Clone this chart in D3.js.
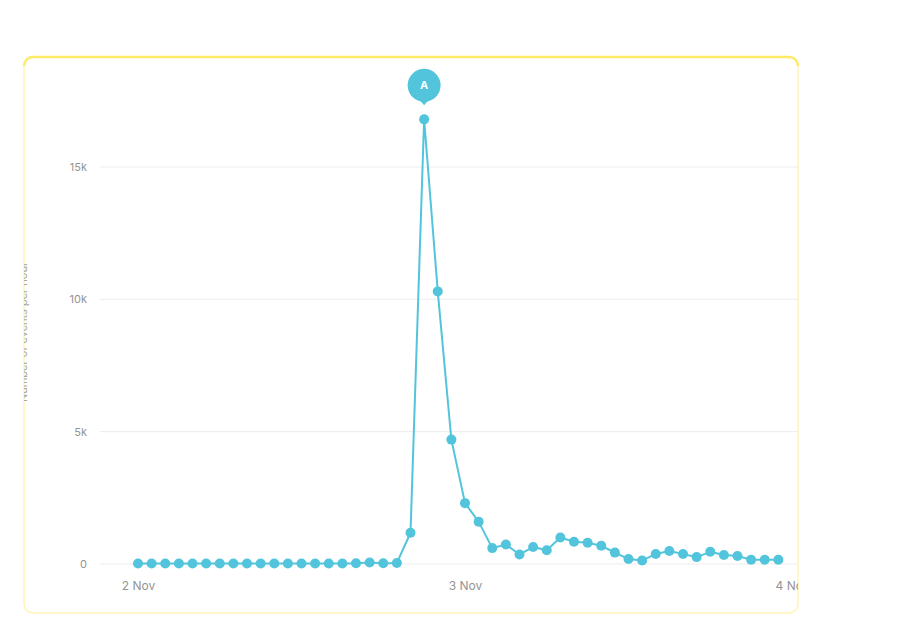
<!DOCTYPE html>
<html>
<head>
<meta charset="utf-8">
<script src="https://cdn.jsdelivr.net/npm/d3@7"></script>
<style>
html,body{margin:0;padding:0;background:#fff;}
svg{display:block;}
</style>
</head>
<body>
<svg id="chart" width="914" height="630"></svg>
<script>
// Hourly counts from 2 Nov 00:00 to 3 Nov 23:00
const startTime = "2023-11-02T00:00:00";
const values = [
  20, 20, 20, 20, 20, 20, 20, 20, 20, 20, 20, 20,
  20, 20, 20, 20, 30, 60, 30, 40, 1180, 16800, 10300, 4700,
  2300, 1600, 600, 740, 360, 640, 520, 1000, 840, 800, 690, 430,
  190, 130, 380, 490, 380, 260, 460, 340, 300, 160, 160, 160
];
const yTicks = [0, 5000, 10000, 15000];
const yTickLabels = ["0", "5k", "10k", "15k"];
const xTickDates = ["2023-11-02T00:00:00", "2023-11-03T00:00:00", "2023-11-04T00:00:00"];
const xTickLabels = ["2 Nov", "3 Nov", "4 Nov"];
const annotationLabel = "A";
const yTitle = "Number of events per hour";

const svg = d3.select("#chart");
const t0 = new Date(startTime);
const data = values.map((v, i) => ({ t: new Date(t0.getTime() + i * 3600000), v }));

const panel = { x: 24, y: 57, w: 774, h: 556 };
const color = "#52c5dc";

// Panel
const defs = svg.append("defs");
defs.append("clipPath").attr("id", "panelClip")
  .append("rect").attr("x", panel.x).attr("y", panel.y).attr("width", panel.w).attr("height", panel.h).attr("rx", 9);

svg.append("rect")
  .attr("x", panel.x).attr("y", panel.y).attr("width", panel.w).attr("height", panel.h).attr("rx", 9)
  .attr("fill", "#fff").attr("stroke", "#fff5b8").attr("stroke-width", 1.5);
// top yellow band
svg.append("path")
  .attr("d", `M${panel.x},${panel.y + 9} A9,9 0 0 1 ${panel.x + 9},${panel.y} L${panel.x + panel.w - 9},${panel.y} A9,9 0 0 1 ${panel.x + panel.w},${panel.y + 9}`)
  .attr("fill", "none").attr("stroke", "#fdea66").attr("stroke-width", 2.5);

const g = svg.append("g").attr("clip-path", "url(#panelClip)");

const x = d3.scaleTime().domain([new Date(xTickDates[0]), new Date(xTickDates[2])]).range([138, 792]);
const y = d3.scaleLinear().domain([0, 15000]).range([564, 167]);

// gridlines
g.append("g").selectAll("line").data(yTicks).join("line")
  .attr("x1", 100).attr("x2", panel.x + panel.w)
  .attr("y1", d => y(d)).attr("y2", d => y(d))
  .attr("stroke", "#ededed").attr("stroke-width", 1);

// y axis
const yAxis = d3.axisLeft(y).tickValues(yTicks).tickFormat((d, i) => yTickLabels[i]).tickSize(0).tickPadding(0);
const ya = g.append("g").attr("transform", "translate(87,0)").call(yAxis);
ya.select(".domain").remove();
ya.selectAll("text").attr("font-family", "Inter, 'Open Sans', sans-serif").attr("font-size", 11).attr("fill", "#949494");

// x axis
const xAxis = d3.axisBottom(x).tickValues(xTickDates.map(d => new Date(d))).tickFormat((d, i) => xTickLabels[i]).tickSize(0).tickPadding(0);
const xa = g.append("g").attr("transform", "translate(0,581)").call(xAxis);
xa.select(".domain").remove();
xa.selectAll("text").attr("font-family", "Inter, 'Open Sans', sans-serif").attr("font-size", 12).attr("fill", "#949494");

// y title (partially clipped)
g.append("text")
  .attr("transform", "translate(27,332) rotate(-90)")
  .attr("text-anchor", "middle")
  .attr("font-family", "Inter, 'Open Sans', sans-serif").attr("font-size", 11).attr("fill", "#a8a8a8")
  .text(yTitle);

// line
const line = d3.line().x(d => x(d.t)).y(d => y(d.v));
g.append("path").datum(data)
  .attr("d", line).attr("fill", "none").attr("stroke", color).attr("stroke-width", 2).attr("stroke-linejoin", "round");

g.append("g").selectAll("circle").data(data).join("circle")
  .attr("cx", d => x(d.t)).attr("cy", d => y(d.v)).attr("r", 5).attr("fill", color);

// annotation pin at max
const peak = data.reduce((a, b) => (b.v > a.v ? b : a));
const px = x(peak.t), py = y(peak.v) - 34;
const pin = g.append("g").attr("transform", `translate(${px},${py})`);
pin.append("path").attr("d", "M-6,13 L0,20 L6,13 Z").attr("fill", color);
pin.append("circle").attr("r", 16.5).attr("fill", color);
pin.append("text").attr("text-anchor", "middle").attr("dy", "0.36em")
  .attr("font-family", "Inter, 'Open Sans', sans-serif").attr("font-size", 11).attr("font-weight", 700).attr("fill", "#fff")
  .text(annotationLabel);
</script>
</body>
</html>
